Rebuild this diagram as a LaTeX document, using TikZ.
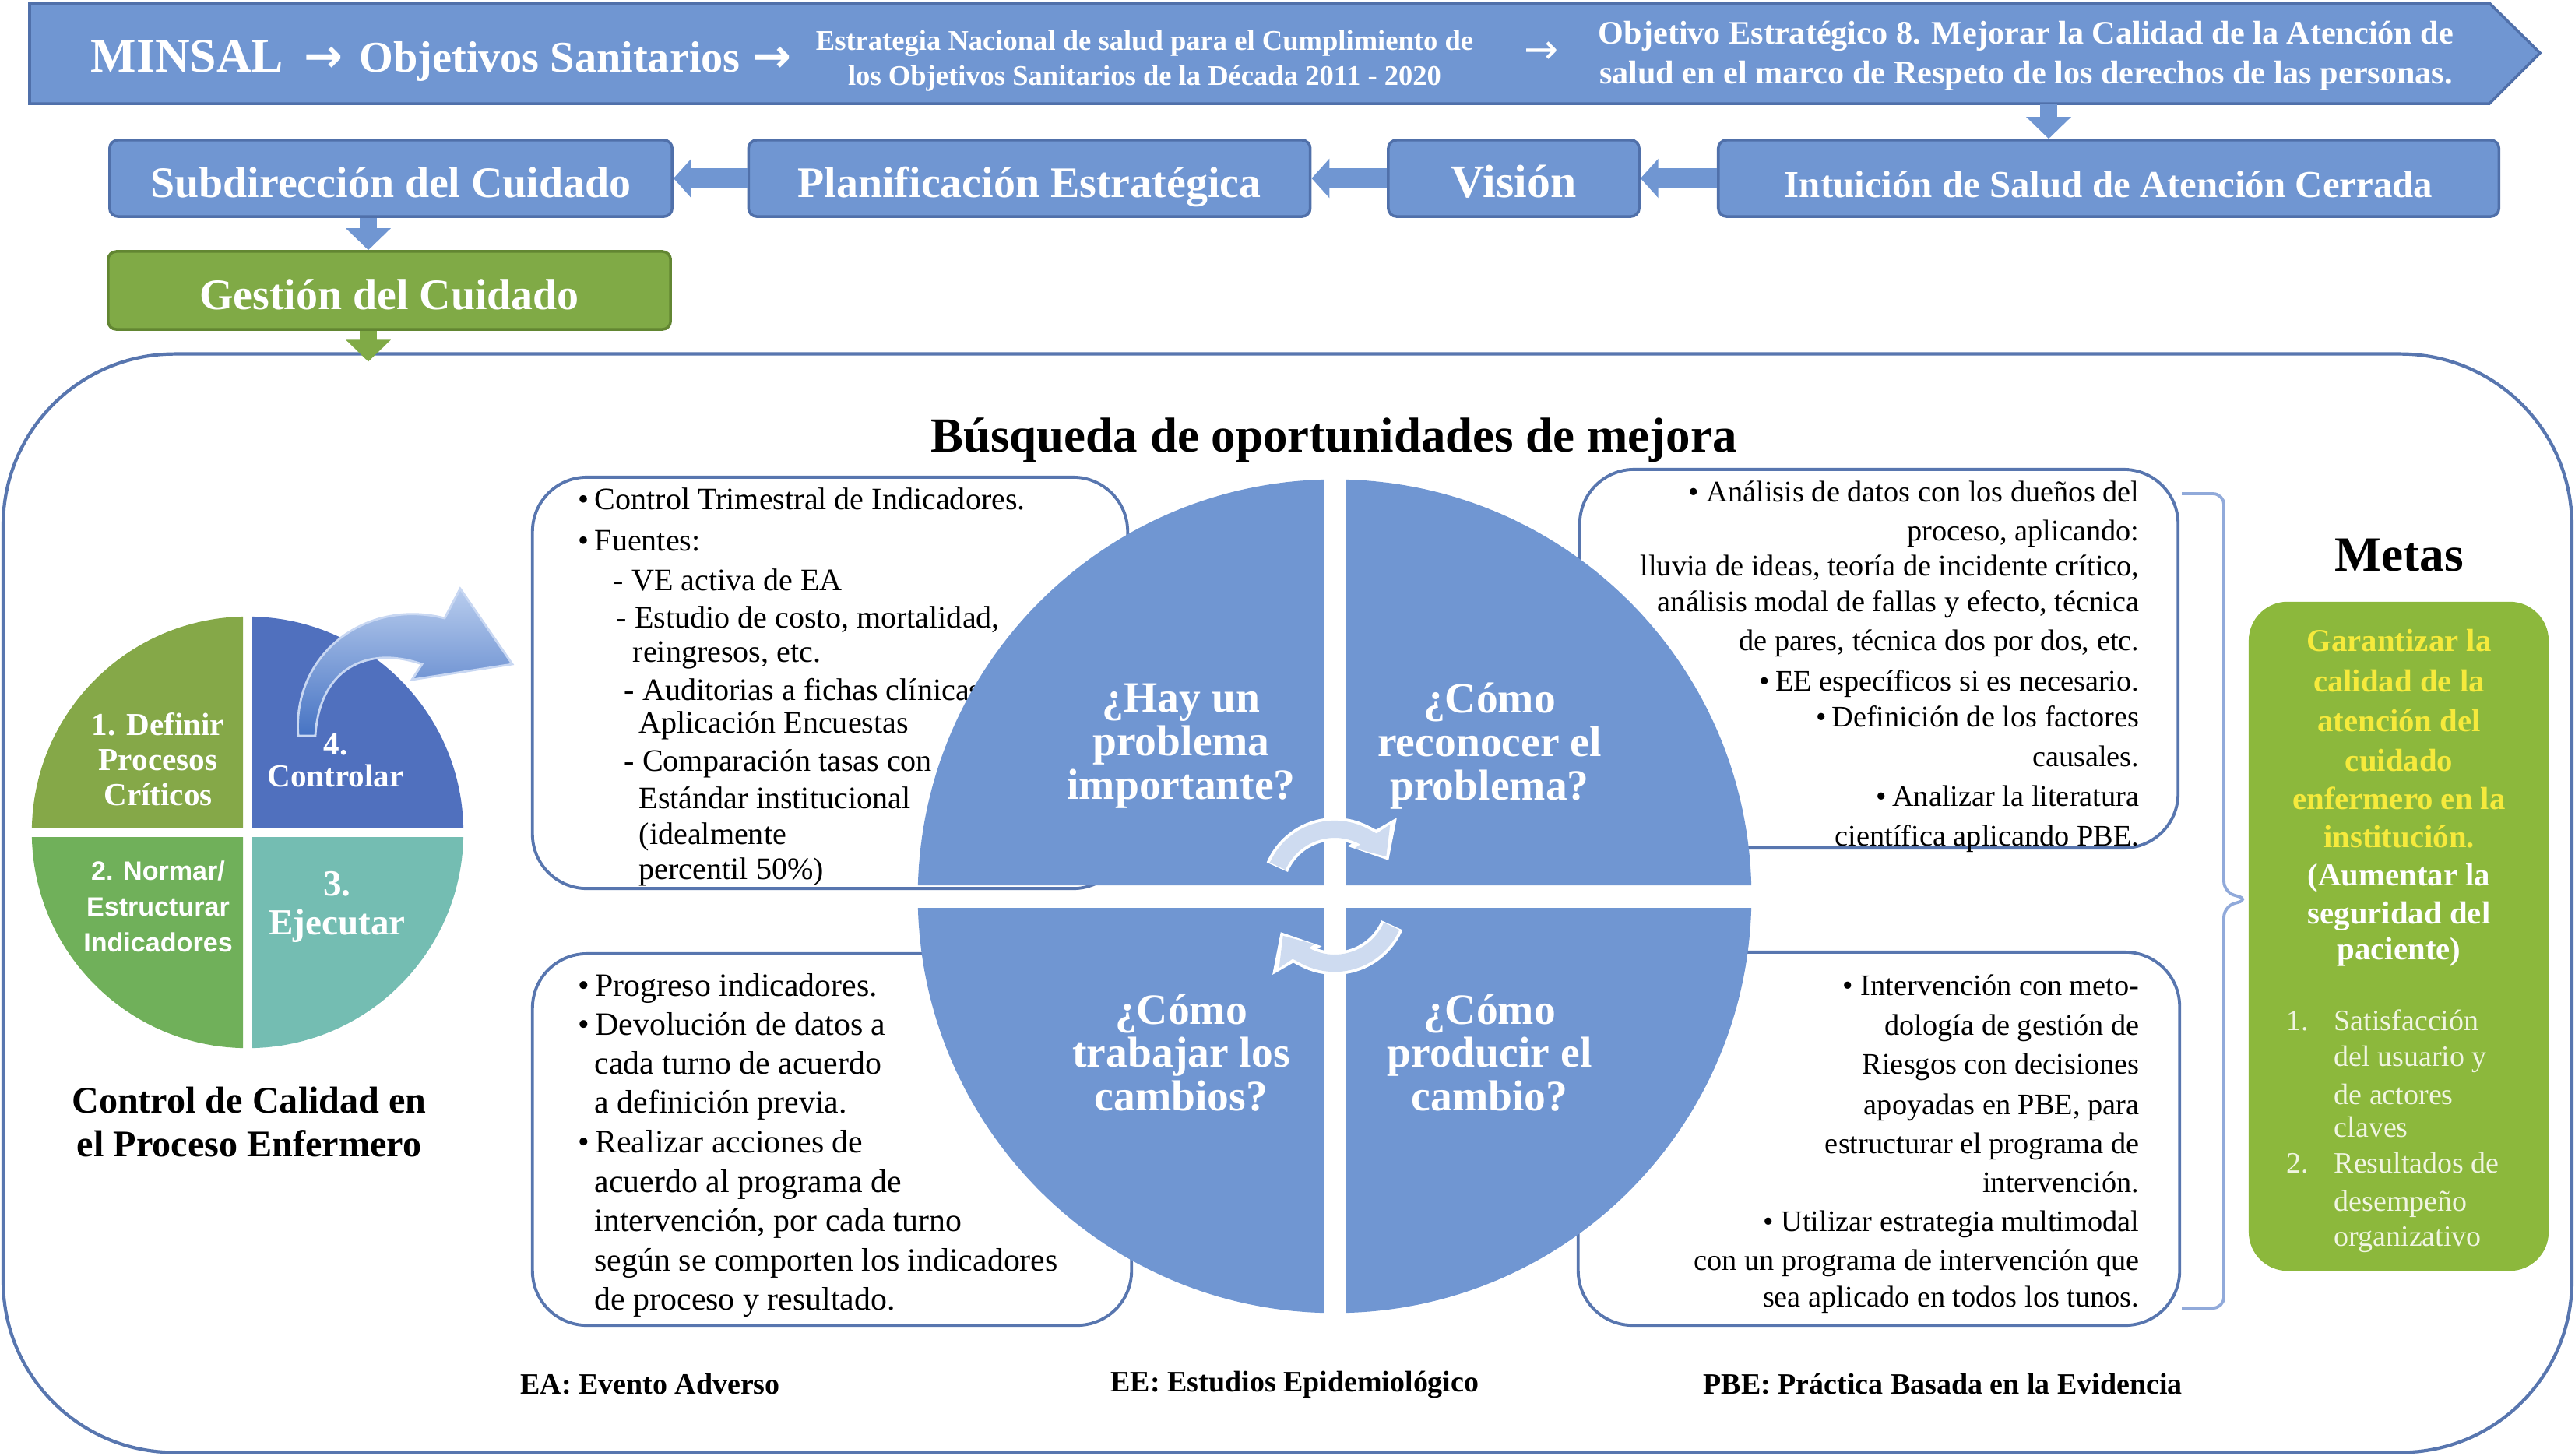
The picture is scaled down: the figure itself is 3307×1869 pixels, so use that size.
\documentclass[tikz,border=0pt]{standalone}
\usepackage{fontspec}
\setmainfont{Liberation Serif}
\newfontfamily\lsans{Liberation Sans}
\newfontfamily\dvs{DejaVu Sans}
\usetikzlibrary{arrows.meta,calc}
\newcommand\fsz[2]{\fontsize{#1}{#2}\selectfont}
\newcommand\bul{•\kern2pt}
\definecolor{blueF}{RGB}{112,150,210}
\definecolor{blueD}{RGB}{80,112,170}
\definecolor{lineB}{RGB}{88,118,175}
\definecolor{greenF}{RGB}{128,170,70}
\definecolor{greenD}{RGB}{98,134,50}
\definecolor{metG}{RGB}{140,184,60}
\definecolor{yelT}{RGB}{246,234,60}
\definecolor{pieA}{RGB}{133,168,72}
\definecolor{pieB}{RGB}{112,176,90}
\definecolor{pieC}{RGB}{116,189,178}
\definecolor{pieD}{RGB}{80,112,190}
\definecolor{arrL}{RGB}{206,219,240}
\definecolor{brk}{RGB}{145,170,218}
\definecolor{listT}{RGB}{240,245,225}
\begin{document}
\begin{tikzpicture}[x=0.01cm,y=-0.01cm,
  rowbox/.style={draw=blueD, fill=blueF, line width=1pt, rounded corners=3pt, text=white, inner sep=0pt, text height=16pt, text depth=1.8pt},
  wtxt/.style={text=white, inner sep=0pt},
  txtbox/.style={draw=lineB, line width=1.1pt, rounded corners=0.7cm, inner sep=0pt},
  hblk/.style={line width=7.5pt, draw=blueF, -{Triangle[width=14pt,length=6.5pt]}},
  vblk/.style={line width=6pt, -{Triangle[width=16pt,length=8pt]}},
  btxtT/.style={font=\fsz{11.4pt}{13pt}, inner sep=0pt},
  btxtL/.style={font=\fsz{11.9pt}{13pt}, inner sep=0pt},
  btxtR/.style={font=\fsz{10.9pt}{13pt}, inner sep=0pt},
  qtxt/.style={text=white, font=\bfseries\fsz{15.8pt}{15.9pt}, align=center, inner sep=0pt},
  ptxt/.style={text=white, align=center, inner sep=0pt},
  mtxt/.style={inner sep=0pt, anchor=base},
  foot/.style={font=\bfseries\fsz{10.8pt}{12pt}, inner sep=0pt},
  carr/.style={line width=6.3pt, -{Triangle[width=15pt,length=9pt]}},
  carrw/.style={line width=8.5pt, -{Triangle[width=20pt,length=12pt]}}
]
\useasboundingbox (0,0) rectangle (3307,1869);

% ---------- top banner ----------
\filldraw[fill=blueF, draw=blueD, line width=1pt] (38,4) -- (3197,4) -- (3262,68) -- (3197,133) -- (38,133) -- cycle;
\node[wtxt, anchor=base west] (hdr) at (116,92)
  {\bfseries\fsz{17.6pt}{20pt}MINSAL\hspace{7.4pt}{\dvs\bfseries\fsz{17pt}{20pt}→}\hspace{6pt}\fsz{16pt}{18pt}Objetivos Sanitarios\hspace{4.5pt}{\dvs\bfseries\fsz{17pt}{20pt}→}};
\node[wtxt, font=\bfseries\fsz{10.4pt}{12pt}, anchor=base] (estr1) at (1470,64) {Estrategia Nacional de salud para el Cumplimiento de};
\node[wtxt, font=\bfseries\fsz{10.4pt}{12pt}, anchor=base] (estr2) at (1470,109) {los Objetivos Sanitarios de la Década 2011 - 2020};
\node[wtxt, font=\dvs\fsz{15pt}{17pt}] (ar3) at (1980,68) {→};
\node[wtxt, font=\bfseries\fsz{12pt}{14.5pt}, align=center] (obj8) at (2602,72)
  {Objetivo Estratégico 8. Mejorar la Calidad de la Atención de\\salud en el marco de Respeto de los derechos de las personas.};
\coordinate (bnr) at (2631,133);

% ---------- second row ----------
\node[rowbox, minimum width=7.22cm, minimum height=0.98cm, font=\bfseries\fsz{15.9pt}{18pt}] (sub) at (502,229) {Subdirección del Cuidado};
\node[rowbox, minimum width=7.21cm, minimum height=0.98cm, font=\bfseries\fsz{15.9pt}{18pt}] (plan) at (1322,229) {Planificación Estratégica};
\node[rowbox, minimum width=3.22cm, minimum height=0.98cm, font=\bfseries\fsz{17pt}{18pt}] (vis) at (1944,229) {Visión};
\node[rowbox, minimum width=10.02cm, minimum height=0.98cm, font=\bfseries\fsz{13.9pt}{16pt}] (intu) at (2708,229) {Intuición de Salud de Atención Cerrada};
\node[rowbox, draw=greenD, fill=greenF, minimum width=7.22cm, minimum height=1.0cm, font=\bfseries\fsz{15.9pt}{18pt}] (ges) at (500,373) {Gestión del Cuidado};
\coordinate (sarr) at (473,0);

\draw[vblk, draw=blueF] (bnr) -- (bnr |- intu.north);
\draw[hblk] (intu.west) -- (vis.east);
\draw[hblk] (vis.west) -- (plan.east);
\draw[hblk] (plan.west) -- (sub.east);
\draw[vblk, draw=blueF] (sub.south -| sarr) -- (ges.north -| sarr);

% ---------- container ----------
\node[draw=lineB, line width=1.2pt, rounded corners=2.2cm, minimum width=32.97cm, minimum height=14.1cm, inner sep=0pt] (cont) at (1653.5,1160) {};
\draw[vblk, draw=greenF] (ges.south -| sarr) -- ($(cont.north -| sarr)+(0,12)$);

\node[font=\bfseries\fsz{17.9pt}{20pt}, inner sep=0pt] (busq) at (1713,565) {Búsqueda de oportunidades de mejora};

% ---------- text boxes ----------
\node[txtbox, minimum width=7.64cm, minimum height=5.28cm] (tlbox) at (1066,877) {};
\node[txtbox, minimum width=7.68cm, minimum height=4.86cm] (trbox) at (2413,846) {};
\node[txtbox, minimum width=7.69cm, minimum height=4.77cm] (blbox) at (1068.5,1463.5) {};
\node[txtbox, minimum width=7.72cm, minimum height=4.79cm] (brbox) at (2413,1462.5) {};

\foreach \yy/\xx/\tx [count=\i] in {
  643/742/{\bul Control Trimestral de Indicadores.},
  696/742/{\bul Fuentes:},
  747/787/{- VE activa de EA},
  795/791/{- Estudio de costo, mortalidad,},
  839/812/{reingresos, etc.},
  888/801/{- Auditorias a fichas clínicas},
  930/820/{Aplicación Encuestas},
  979/801/{- Comparación tasas con},
  1027/820/{Estándar institucional},
  1073/820/{(idealmente},
  1118/820/{percentil 50\%)}}
  \node[btxtT, anchor=base west] (tl\i) at (\xx,\yy+11) {\tx};

\foreach \yy/\tx [count=\i] in {
  633/{• Análisis de datos con los dueños del},
  683/{proceso, aplicando:},
  728/{lluvia de ideas, teoría de incidente crítico,},
  774/{análisis modal de fallas y efecto, técnica},
  824/{de pares, técnica dos por dos, etc.},
  876/{\bul EE específicos si es necesario.},
  922/{\bul Definición de los factores},
  973/{causales.},
  1024/{\bul Analizar la literatura},
  1075/{científica aplicando PBE.}}
  \node[btxtR, anchor=base east] (tr\i) at (2748,\yy+11) {\tx};

\foreach \yy/\xx/\tx [count=\i] in {
  1268/742/{\bul Progreso indicadores.},
  1318/742/{\bul Devolución de datos a},
  1368/763/{cada turno de acuerdo},
  1418/763/{a definición previa.},
  1469/742/{\bul Realizar acciones de},
  1520/763/{acuerdo al programa de},
  1570/763/{intervención, por cada turno},
  1621/763/{según se comporten los indicadores},
  1671/763/{de proceso y resultado.}}
  \node[btxtL, anchor=base west] (bl\i) at (\xx,\yy+11) {\tx};

\foreach \yy/\tx [count=\i] in {
  1267/{• Intervención con meto-},
  1318/{dología de gestión de},
  1368/{Riesgos con decisiones},
  1420/{apoyadas en PBE, para},
  1470/{estructurar el programa de},
  1520/{intervención.},
  1570/{• Utilizar estrategia multimodal},
  1620/{con un programa de intervención que},
  1667/{sea aplicado en todos los tunos.}}
  \node[btxtR, anchor=base east] (br\i) at (2748,\yy+11) {\tx};

% ---------- central circle ----------
\coordinate (cc) at (1714,1151);
\begin{scope}
  \clip (1100,560) rectangle (1700,1137) (1728,560) rectangle (2300,1137)
        (1100,1166) rectangle (1700,1740) (1728,1166) rectangle (2300,1740);
  \fill[blueF] (cc) circle[radius=5.35cm];
\end{scope}
\node[qtxt] (q1) at (1517,958) {¿Hay un\\problema\\importante?};
\node[qtxt] (q2) at (1913,958) {¿Cómo\\reconocer el\\problema?};
\node[qtxt] (q3) at (1517,1352) {¿Cómo\\trabajar los\\cambios?};
\node[qtxt] (q4) at (1913,1352) {¿Cómo\\producir el\\cambio?};

\draw[carrw, white] ($(1714,1145)+(157:0.8cm)$) arc[start angle=157, end angle=30, radius=0.8cm];
\draw[carr, arrL] ($(1714,1145)+(156:0.8cm)$) arc[start angle=156, end angle=34, radius=0.8cm];
\draw[carrw, white] ($(1714,1157)+(-23:0.8cm)$) arc[start angle=-23, end angle=-150, radius=0.8cm];
\draw[carr, arrL] ($(1714,1157)+(-24:0.8cm)$) arc[start angle=-24, end angle=-146, radius=0.8cm];

% ---------- left pie ----------
\coordinate (pc) at (318,1069);
\begin{scope}\clip (0,700) rectangle (312,1063); \fill[pieA] (pc) circle[radius=2.77cm]; \end{scope}
\begin{scope}\clip (324,700) rectangle (700,1063); \fill[pieD] (pc) circle[radius=2.77cm]; \end{scope}
\begin{scope}\clip (0,1075) rectangle (312,1400); \fill[pieB] (pc) circle[radius=2.77cm]; \end{scope}
\begin{scope}\clip (324,1075) rectangle (700,1400); \fill[pieC] (pc) circle[radius=2.77cm]; \end{scope}
\node[ptxt, font=\bfseries\fsz{11.7pt}{12.8pt}] (p1) at (203,975) {1. Definir\\Procesos\\Críticos};
\node[ptxt, font=\bfseries\fsz{11.7pt}{11.6pt}] (p4) at (431,977) {4.\\Controlar};
\node[ptxt, font=\lsans\bfseries\fsz{9.7pt}{13.1pt}] (p2) at (203,1164) {2. Normar/\\Estructurar\\Indicadores};
\node[ptxt, font=\bfseries\fsz{13.4pt}{14.2pt}] (p3) at (433,1165) {3.\\Ejecutar};

\shade[top color={rgb,255:red,185;green,205;blue,238}, bottom color={rgb,255:red,70;green,115;blue,195}, draw={rgb,255:red,200;green,215;blue,242}, line width=0.8pt]
  (383,945) .. controls (375,840) and (470,768) .. (571,794) -- (591,756) -- (658,853)
  -- (529,873) -- (542,853) .. controls (470,828) and (410,860) .. (405,945) -- cycle;

\node[font=\bfseries\fsz{13.7pt}{16.2pt}, align=center, inner sep=0pt] (ctrl) at (320,1441) {Control de Calidad en\\el Proceso Enfermero};

% ---------- metas ----------
\node[font=\bfseries\fsz{18pt}{20pt}, inner sep=0pt] (metas) at (3081,713) {Metas};
\node[fill=metG, rounded corners=0.5cm, minimum width=3.85cm, minimum height=8.59cm, inner sep=0pt] (metbox) at (3080.5,1202.5) {};
\draw[brk, line width=1.1pt, rounded corners=4pt] (2802,634) -- (2856,634) -- (2856,1146) -- (2888,1155) -- (2856,1164) -- (2856,1680) -- (2802,1680);

\foreach \yy/\tx [count=\i] in {826/{Garantizar la}, 878/{calidad de la}, 929/{atención del}, 980/{cuidado}, 1029/{enfermero en la}, 1078/{institución.}}
  \node[mtxt, text=yelT, font=\bfseries\fsz{11.6pt}{13pt}] (my\i) at (3081,\yy+10) {\tx};
\foreach \yy/\tx [count=\i] in {1127/{(Aumentar la}, 1176/{seguridad del}, 1222/{paciente)}}
  \node[mtxt, text=white, font=\bfseries\fsz{11.6pt}{13pt}] (mw\i) at (3081,\yy+10) {\tx};
\foreach \yy/\tx [count=\i] in {1313/{Satisfacción}, 1359/{del usuario y}, 1408/{de actores}, 1450/{claves}, 1496/{Resultados de}, 1545/{desempeño}, 1590/{organizativo}}
  \node[mtxt, anchor=base west, text=listT, font=\fsz{10.8pt}{12pt}] (ml\i) at (2997,\yy+10) {\tx};
\node[mtxt, anchor=base west, text=listT, font=\fsz{10.8pt}{12pt}] (mn1) at (2936,1323) {1.};
\node[mtxt, anchor=base west, text=listT, font=\fsz{10.8pt}{12pt}] (mn2) at (2936,1506) {2.};

% ---------- footer ----------
\node[foot] (fea) at (835,1778) {EA: Evento Adverso};
\node[foot] (fee) at (1663,1778) {EE: Estudios Epidemiológico};
\node[foot] (fpbe) at (2495,1778) {PBE: Práctica Basada en la Evidencia};
\end{tikzpicture}
\end{document}
